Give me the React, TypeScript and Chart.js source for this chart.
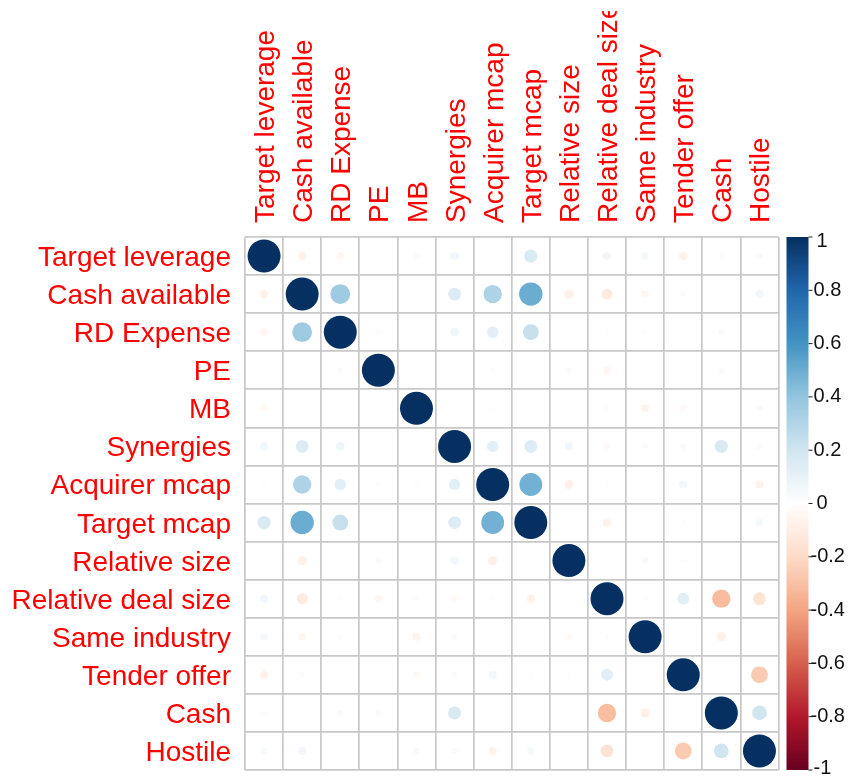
import React, { useEffect, useRef } from "react";
import { Chart, registerables } from "chart.js";

Chart.register(...registerables);

// Variable names (rows top-to-bottom, columns left-to-right)
const variables = [
  "Target leverage",
  "Cash available",
  "RD Expense",
  "PE",
  "MB",
  "Synergies",
  "Acquirer mcap",
  "Target mcap",
  "Relative size",
  "Relative deal size",
  "Same industry",
  "Tender offer",
  "Cash",
  "Hostile",
];

// Correlation matrix rows
const rowTargetLeverage = [1, -0.07, -0.05, 0.01, -0.04, 0.06, 0.02, 0.16, 0.01, 0.06, 0.05, -0.07, -0.02, 0.04];
const rowCashAvailable = [-0.07, 1, 0.36, 0.01, 0.01, 0.15, 0.31, 0.5, -0.08, -0.11, -0.05, -0.03, -0.01, 0.06];
const rowRDExpense = [-0.05, 0.36, 1, -0.03, 0.01, 0.07, 0.12, 0.23, 0.01, -0.02, -0.02, 0.01, 0.03, 0.01];
const rowPE = [0.01, 0.01, -0.03, 1, 0.01, 0.01, 0.02, 0.01, 0.03, -0.05, -0.01, 0.01, 0.03, 0.01];
const rowMB = [-0.04, 0.01, 0.01, 0.01, 1, 0.01, -0.02, 0.01, 0.01, -0.02, -0.06, -0.04, 0.01, 0.04];
const rowSynergies = [0.06, 0.15, 0.07, 0.01, 0.01, 1, 0.12, 0.15, 0.06, -0.04, 0.03, 0.03, 0.16, 0.03];
const rowAcquirerMcap = [0.02, 0.31, 0.12, 0.02, -0.02, 0.12, 1, 0.48, -0.08, -0.02, 0.01, 0.06, 0.01, -0.06];
const rowTargetMcap = [0.16, 0.5, 0.23, 0.01, 0.01, 0.15, 0.48, 1, 0.01, -0.07, 0.01, -0.02, 0.01, 0.05];
const rowRelativeSize = [0.01, -0.08, 0.01, 0.03, 0.01, 0.06, -0.08, 0.01, 1, 0.01, -0.04, -0.02, 0.01, 0.01];
const rowRelativeDealSize = [0.06, -0.11, -0.02, -0.05, -0.02, -0.04, -0.02, -0.07, 0.01, 1, 0.02, 0.13, -0.31, -0.15];
const rowSameIndustry = [0.05, -0.05, -0.02, -0.01, -0.06, 0.03, 0.01, 0.01, -0.04, 0.02, 1, 0.01, -0.08, -0.01];
const rowTenderOffer = [-0.07, -0.03, 0.01, 0.01, -0.04, 0.03, 0.06, -0.02, -0.02, 0.13, 0.01, 1, 0.01, -0.26];
const rowCash = [-0.02, -0.01, 0.03, 0.03, 0.01, 0.16, 0.01, 0.01, 0.01, -0.31, -0.08, 0.01, 1, 0.2];
const rowHostile = [0.04, 0.06, 0.01, 0.01, 0.04, 0.03, -0.06, 0.05, 0.01, -0.15, -0.01, -0.26, 0.2, 1];

const corrRows = [
  rowTargetLeverage,
  rowCashAvailable,
  rowRDExpense,
  rowPE,
  rowMB,
  rowSynergies,
  rowAcquirerMcap,
  rowTargetMcap,
  rowRelativeSize,
  rowRelativeDealSize,
  rowSameIndustry,
  rowTenderOffer,
  rowCash,
  rowHostile,
];

// Colour legend tick labels
const legendTicks = [1, 0.8, 0.6, 0.4, 0.2, 0, -0.2, -0.4, -0.6, -0.8, -1];

// Diverging red-blue palette from -1 to 1
const palette = [
  "#67001F", "#B2182B", "#D6604D", "#F4A582", "#FDDBC7", "#FFFFFF",
  "#D1E5F0", "#92C5DE", "#4393C3", "#2166AC", "#053061",
];

function hexToRgb(h: string): number[] {
  return [parseInt(h.slice(1, 3), 16), parseInt(h.slice(3, 5), 16), parseInt(h.slice(5, 7), 16)];
}

function colorFor(v: number): string {
  const t = ((Math.max(-1, Math.min(1, v)) + 1) / 2) * (palette.length - 1);
  const i = Math.min(palette.length - 2, Math.floor(t));
  const f = t - i;
  const a = hexToRgb(palette[i]);
  const b = hexToRgb(palette[i + 1]);
  const c = a.map((x, k) => Math.round(x + (b[k] - x) * f));
  return `rgb(${c[0]},${c[1]},${c[2]})`;
}

const n = variables.length;
const gridValues = Array.from({ length: n + 1 }, (_, k) => k + 0.5);
const LABEL_SIZE = 28;
const LABEL_FONT = `${LABEL_SIZE}px 'Liberation Sans', Arial, sans-serif`;

const labelPlugin = {
  id: "corrLabels",
  afterDraw(chart: any) {
    const { ctx, chartArea, scales } = chart;
    const xs = scales.x;
    const ys = scales.y;
    ctx.save();
    ctx.fillStyle = "#FF0000";
    ctx.font = LABEL_FONT;
    const capHalf = (0.716 * LABEL_SIZE) / 2;
    // row labels
    ctx.textAlign = "right";
    ctx.textBaseline = "alphabetic";
    variables.forEach((name, i) => {
      ctx.fillText(name, chartArea.left - 14, ys.getPixelForValue(i + 1) + capHalf);
    });
    // column labels, rotated, clipped to the figure region
    ctx.save();
    ctx.beginPath();
    ctx.rect(0, 11, chart.width, chartArea.top - 11);
    ctx.clip();
    ctx.textAlign = "left";
    variables.forEach((name, j) => {
      ctx.save();
      ctx.translate(xs.getPixelForValue(j + 1) + capHalf, chartArea.top - 14);
      ctx.rotate(-Math.PI / 2);
      ctx.fillText(name, 0, 0);
      ctx.restore();
    });
    ctx.restore();

    // colour legend
    const barL = chartArea.right + 8;
    const barR = chartArea.right + 30;
    const top = chartArea.top;
    const bottom = chartArea.bottom;
    const grad = ctx.createLinearGradient(0, top, 0, bottom);
    palette.forEach((c, k) => {
      grad.addColorStop(1 - k / (palette.length - 1), c);
    });
    ctx.fillStyle = grad;
    ctx.fillRect(barL, top, barR - barL, bottom - top);
    ctx.strokeStyle = "#222";
    ctx.lineWidth = 1;
    ctx.fillStyle = "#111";
    ctx.font = "20px 'Liberation Sans', Arial, sans-serif";
    ctx.textAlign = "left";
    ctx.textBaseline = "middle";
    legendTicks.forEach((v) => {
      const y = top + ((1 - v) / 2) * (bottom - top);
      ctx.beginPath();
      ctx.moveTo(barR, y);
      ctx.lineTo(barR + 4, y);
      ctx.stroke();
      const s = String(v);
      let x = s.startsWith("-") ? barR + 2 : barR + 5;
      if (s.replace("-", "").length === 1) x += 3;
      const ty = Math.min(Math.max(y, top + 4), bottom - 2);
      ctx.fillText(s, x, ty);
    });
    ctx.restore();
  },
};

export default function App() {
  const canvasRef = useRef<HTMLCanvasElement | null>(null);

  useEffect(() => {
    document.body.style.margin = "0";
    const canvas = canvasRef.current;
    if (!canvas) return;

    const points: any[] = [];
    corrRows.forEach((row, i) => {
      row.forEach((v, j) => {
        points.push({ x: j + 1, y: i + 1, v });
      });
    });

    const cellRadius = (ctx: any) => {
      const xs = ctx.chart.scales.x;
      if (!xs) return 0;
      const cell = Math.abs(xs.getPixelForValue(2) - xs.getPixelForValue(1));
      const v = ctx.raw ? ctx.raw.v : 0;
      return cell * 0.433 * Math.sqrt(Math.abs(v));
    };

    const gridAxis = (reverse: boolean) => ({
      type: "linear" as const,
      min: 0.5,
      max: n + 0.5,
      reverse,
      afterBuildTicks: (scale: any) => {
        scale.ticks = gridValues.map((value) => ({ value }));
      },
      ticks: { display: false },
      grid: { color: "#c8c8c8", lineWidth: 1.7, drawTicks: false },
      border: { display: false },
    });

    const chart = new Chart(canvas, {
      type: "scatter",
      data: {
        datasets: [
          {
            data: points,
            pointStyle: "circle",
            pointRadius: cellRadius,
            pointHoverRadius: cellRadius,
            borderWidth: 0,
            backgroundColor: (ctx: any) => colorFor(ctx.raw ? ctx.raw.v : 0),
          },
        ],
      },
      options: {
        responsive: false,
        animation: false,
        events: [],
        layout: { padding: { left: 245, top: 237, right: 74.5, bottom: 10 } },
        plugins: { legend: { display: false }, tooltip: { enabled: false } },
        scales: { x: gridAxis(false), y: gridAxis(true) },
      },
      plugins: [labelPlugin],
    });

    return () => chart.destroy();
  }, []);

  return (
    <div style={{ position: "fixed", left: 0, top: 0, width: 853, height: 780, background: "#fff" }}>
      <canvas ref={canvasRef} width={853} height={780} style={{ display: "block" }} />
    </div>
  );
}
